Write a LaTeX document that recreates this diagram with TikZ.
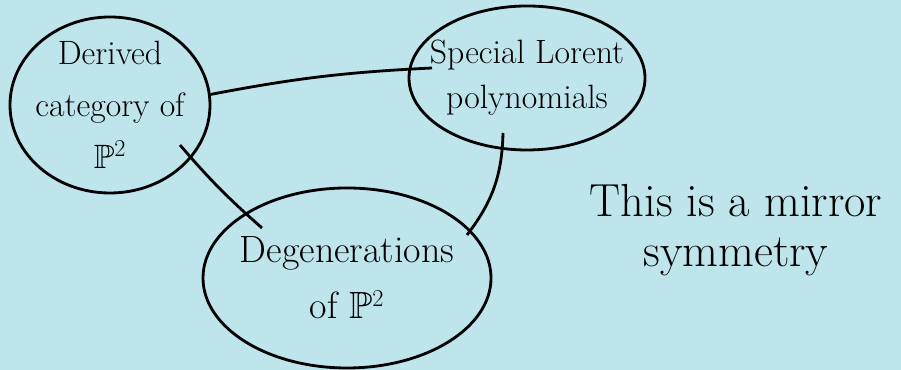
\documentclass[tikz,border=0pt]{standalone}
\usepackage{amsmath}
\usepackage{amssymb}
\usetikzlibrary{shapes.geometric}

\definecolor{paperblue}{RGB}{190,228,236}

\tikzset{
    bubble/.style={draw, ellipse, line width=2pt, inner sep=-1.5cm, align=center,
        font=\fontsize{24}{37}\selectfont},
    link/.style={line width=2pt},
}

\begin{document}
\begin{tikzpicture}
            \fill[paperblue] (0,0) rectangle (22.525,9.25);
            \useasboundingbox (0,0) rectangle (22.525,9.25);
            \node[bubble, minimum width=5cm, minimum height=4.4cm] at (2.75,6.625) (derived) {Derived\\ category of\\ $\mathbb{P}^2$};
            \node[bubble, minimum width=5.9cm, minimum height=3.6cm, font=\fontsize{24}{32}\selectfont] at (13.175,7.3) (lorent) {Special Lorent\\ polynomials};
            \node[bubble, minimum width=7.2cm, minimum height=4.5cm, font=\fontsize{27}{40}\selectfont] at (8.675,2.3) (degen) {Degenerations\\ of $\mathbb{P}^2$};
            \node[align=center, font=\fontsize{33}{36}\selectfont] at (18.4,3.5) (note) {This is a mirror\\ symmetry};
            \coordinate (lorentin) at (10.8,7.55);
            \coordinate (derivedout) at (4.5,5.625);
            \coordinate (degenin) at (6.55,3.55);
            \coordinate (lorentout) at (12.575,5.925);
            \coordinate (degenin2) at (11.675,3.375);
            \draw[link] (derived.6) to [bend left=4] (lorentin);
            \draw[link] (derivedout) to [bend right=4] (degenin);
            \draw[link] (lorentout) to [bend left=18] (degenin2);
        \end{tikzpicture}
\end{document}
